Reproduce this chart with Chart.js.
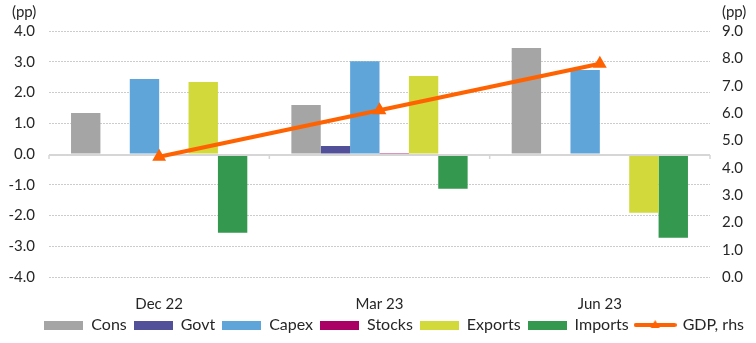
<!DOCTYPE html>
<html>
<head>
<meta charset="utf-8">
<script src="https://cdn.jsdelivr.net/npm/chart.js@4.4.0/dist/chart.umd.min.js"></script>
<style>
  html, body { margin: 0; padding: 0; background: #fff; }
</style>
</head>
<body>
<canvas id="c" width="756" height="343"></canvas>
<script>
// Quarterly contributions to GDP growth (pp) and GDP growth (rhs)
const quarters = ['Dec 22', 'Mar 23', 'Jun 23'];
const cons      = [1.33, 1.59, 3.45];
const govt      = [0.0, 0.26, -0.05];
const capex     = [2.44, 3.02, 2.73];
const stocks    = [0.0, 0.03, 0.0];
const exportsPP = [2.34, 2.54, -1.91];
const imports   = [-2.56, -1.13, -2.72];
const gdp       = [4.4, 6.1, 7.8];

const leftTicks  = [-4, -3, -2, -1, 0, 1, 2, 3, 4];
const rightTicks = [0, 1, 2, 3, 4, 5, 6, 7, 8, 9];

const COLORS = {
  cons: '#a5a5a5', govt: '#525098', capex: '#5fa5da', stocks: '#aa0066',
  exports: '#d2d93a', imports: '#35984f', gdp: '#ff6200'
};
const FONT = { family: 'Lato, "Open Sans", sans-serif', size: 15 };
const LEGEND_FONT = { family: FONT.family, size: 16 };
const TEXT = '#262626';

// Legend swatches: flat bars for the columns, line with a triangle for GDP
function barSwatch(color) {
  const cv = document.createElement('canvas');
  cv.width = 39; cv.height = 9;
  const g = cv.getContext('2d');
  g.fillStyle = color; g.fillRect(0, 0, 39, 9);
  return cv;
}
function lineSwatch(color) {
  const cv = document.createElement('canvas');
  cv.width = 43; cv.height = 12;
  const g = cv.getContext('2d');
  g.strokeStyle = color; g.lineWidth = 4; g.lineCap = 'round';
  g.beginPath(); g.moveTo(2, 6); g.lineTo(41, 6); g.stroke();
  g.fillStyle = color;
  g.beginPath(); g.moveTo(21.5, 1); g.lineTo(26, 9); g.lineTo(17, 9); g.closePath(); g.fill();
  return cv;
}

// Zero line with small separators between quarters, drawn under the GDP line
const zeroAxis = {
  id: 'zeroAxis',
  beforeDatasetDraw(chart, args) {
    if (args.meta.type !== 'line') return;
    const { ctx, chartArea, scales } = chart;
    const y0 = Math.round(scales.y.getPixelForValue(0)) + 1;
    ctx.save();
    ctx.strokeStyle = '#d6d6d6';
    ctx.lineWidth = 2;
    ctx.beginPath();
    ctx.moveTo(chartArea.left, y0);
    ctx.lineTo(chartArea.right, y0);
    ctx.stroke();
    const step = (chartArea.right - chartArea.left) / quarters.length;
    ctx.lineWidth = 1.5;
    for (let i = 0; i <= quarters.length; i++) {
      const px = chartArea.left + i * step;
      ctx.beginPath();
      ctx.moveTo(px, y0);
      ctx.lineTo(px, y0 + 4);
      ctx.stroke();
    }
    ctx.restore();
  }
};

// Unit labels above both value axes
const unitLabels = {
  id: 'unitLabels',
  afterDraw(chart) {
    const { ctx, scales } = chart;
    ctx.save();
    ctx.font = FONT.size + 'px ' + FONT.family;
    ctx.fillStyle = TEXT;
    ctx.textBaseline = 'middle';
    ctx.textAlign = 'left';
    ctx.fillText('(pp)', scales.y.left + 4, 12);
    ctx.fillText('(pp)', scales.y2.left + 12, 12);
    ctx.restore();
  }
};

const barSet = (label, data, color) => ({
  type: 'bar', label, data, backgroundColor: color, borderWidth: 0,
  yAxisID: 'y', order: 1,
  categoryPercentage: 0.8, barPercentage: 1.0
});

const swatches = [
  barSwatch(COLORS.cons), barSwatch(COLORS.govt), barSwatch(COLORS.capex),
  barSwatch(COLORS.stocks), barSwatch(COLORS.exports), barSwatch(COLORS.imports),
  lineSwatch(COLORS.gdp)
];

new Chart(document.getElementById('c'), {
  data: {
    labels: quarters,
    datasets: [
      barSet('Cons', cons, COLORS.cons),
      barSet('Govt', govt, COLORS.govt),
      barSet('Capex', capex, COLORS.capex),
      barSet('Stocks', stocks, COLORS.stocks),
      barSet('Exports', exportsPP, COLORS.exports),
      barSet('Imports', imports, COLORS.imports),
      {
        type: 'line', label: 'GDP, rhs', data: gdp, yAxisID: 'y2', order: 0,
        borderColor: COLORS.gdp, backgroundColor: COLORS.gdp, borderWidth: 4,
        pointStyle: 'triangle', pointRadius: 8, pointBorderWidth: 0,
        pointBackgroundColor: COLORS.gdp, tension: 0
      }
    ]
  },
  options: {
    responsive: false,
    animation: false,
    devicePixelRatio: 1,
    layout: { padding: { top: 31, left: 8, right: 5, bottom: 0 } },
    plugins: {
      tooltip: { enabled: false },
      legend: {
        position: 'bottom',
        align: 'end',
        labels: {
          font: LEGEND_FONT, color: TEXT, padding: 7,
          usePointStyle: true, pointStyleWidth: 39, boxHeight: 9,
          sort: (a, b) => a.datasetIndex - b.datasetIndex,
          generateLabels(chart) {
            const items = Chart.defaults.plugins.legend.labels.generateLabels(chart);
            items.forEach(it => { it.pointStyle = swatches[it.datasetIndex]; });
            return items;
          }
        }
      }
    },
    scales: {
      x: {
        grid: { display: false },
        border: { display: false },
        ticks: { font: FONT, color: TEXT, padding: 10 },
        afterFit: s => { s.height = 33; }
      },
      y: {
        position: 'left',
        min: leftTicks[0], max: leftTicks[leftTicks.length - 1],
        ticks: { stepSize: 1, font: FONT, color: TEXT, padding: 14,
                 callback: v => Number(v).toFixed(1) },
        grid: { drawTicks: false, color: c => c.tick.value === 0 ? 'rgba(0,0,0,0)' : '#cccccc', lineWidth: 1 },
        border: { display: false, dash: [2, 1] },
        afterFit: s => { s.width = 41; }
      },
      y2: {
        position: 'right',
        min: rightTicks[0], max: rightTicks[rightTicks.length - 1],
        ticks: { stepSize: 1, font: FONT, color: TEXT, padding: 12,
                 callback: v => Number(v).toFixed(1) },
        grid: { display: false, drawTicks: false },
        border: { display: false },
        afterFit: s => { s.width = 41; }
      }
    }
  },
  plugins: [zeroAxis, unitLabels]
});
</script>
</body>
</html>
